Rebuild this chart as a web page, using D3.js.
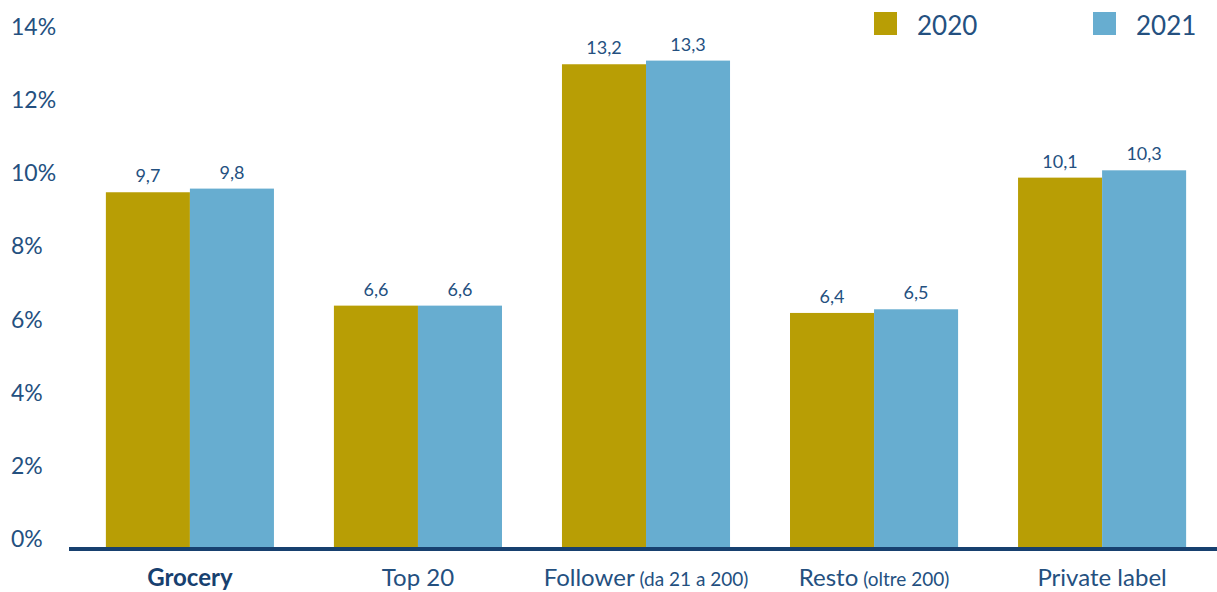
<!DOCTYPE html>
<html>
<head>
<meta charset="utf-8">
<script src="https://cdn.jsdelivr.net/npm/d3@7"></script>
<style>
  html, body { margin: 0; padding: 0; background: #fff; }
  svg { display: block; font-family: Lato, "Open Sans", sans-serif; }
</style>
</head>
<body>
<svg id="chart" width="1217" height="592"></svg>
<script>
// Categories: main label plus an optional smaller qualifier
const categories = ["Grocery", "Top 20", "Follower", "Resto", "Private label"];
const categoryNotes = ["", "", "(da 21 a 200)", "(oltre 200)", ""];
const series = ["2020", "2021"];
const values2020 = [9.7, 6.6, 13.2, 6.4, 10.1];
const values2021 = [9.8, 6.6, 13.3, 6.5, 10.3];
const yTicks = [0, 2, 4, 6, 8, 10, 12, 14];

const colors = { "2020": "#B89E05", "2021": "#67ADD0" };
const textColor = "#24507F";
const axisColor = "#17406F";

const svg = d3.select("#chart");
const W = 1217, H = 592;

const x0 = d3.scaleBand().domain(categories).range([76, 1216]).paddingInner(0.263).paddingOuter(0.131);
const x1 = d3.scaleBand().domain(series).range([0, x0.bandwidth()]);
const y = d3.scaleLinear().domain([0, 14]).range([547, 35]);

const rows = categories.map((c, i) => ({ cat: c, note: categoryNotes[i], vals: [
  { s: "2020", v: values2020[i] }, { s: "2021", v: values2021[i] }
]}));

// Y tick labels (no gridlines)
svg.append("g").selectAll("text").data(yTicks).join("text")
  .attr("x", 11)
  .attr("y", d => y(d) - 8)
  .attr("dy", "0.35em")
  .attr("fill", textColor)
  .attr("font-size", 23)
  .text(d => d + "%");

// Bars
const groups = svg.append("g").selectAll("g").data(rows).join("g")
  .attr("transform", d => `translate(${x0(d.cat)},0)`);

groups.selectAll("rect").data(d => d.vals).join("rect")
  .attr("x", d => x1(d.s))
  .attr("y", d => y(d.v))
  .attr("width", x1.bandwidth())
  .attr("height", d => y(0) - y(d.v))
  .attr("fill", d => colors[d.s]);

// Value labels with comma decimal separator
groups.selectAll("text").data(d => d.vals).join("text")
  .attr("x", d => x1(d.s) + x1.bandwidth() / 2)
  .attr("y", d => y(d.v) - 10)
  .attr("text-anchor", "middle")
  .attr("fill", textColor)
  .attr("font-size", 18)
  .text(d => d.v.toFixed(1).replace(".", ","));

// Baseline
svg.append("line")
  .attr("x1", 69).attr("x2", W)
  .attr("y1", y(0) + 2).attr("y2", y(0) + 2)
  .attr("stroke", axisColor).attr("stroke-width", 4);

// Category labels
const catLabels = svg.append("g").selectAll("text").data(rows).join("text")
  .attr("x", d => x0(d.cat) + x0.bandwidth() / 2)
  .attr("y", 586)
  .attr("text-anchor", "middle")
  .attr("fill", d => d.cat === "Grocery" ? axisColor : textColor)
  .attr("font-size", 24)
  .attr("font-weight", d => d.cat === "Grocery" ? 700 : 400);
catLabels.append("tspan").text(d => d.cat);
catLabels.filter(d => d.note).append("tspan")
  .attr("font-size", 19)
  .text(d => " " + d.note);

// Legend
const legendX = [874, 1093];
const legend = svg.append("g").selectAll("g").data(series).join("g")
  .attr("transform", (d, i) => `translate(${legendX[i]},12)`);
legend.append("rect").attr("width", 23).attr("height", 23).attr("fill", d => colors[d]);
legend.append("text")
  .attr("x", 43).attr("y", 23)
  .attr("fill", textColor)
  .attr("font-size", 26)
  .text(d => d);
</script>
</body>
</html>
